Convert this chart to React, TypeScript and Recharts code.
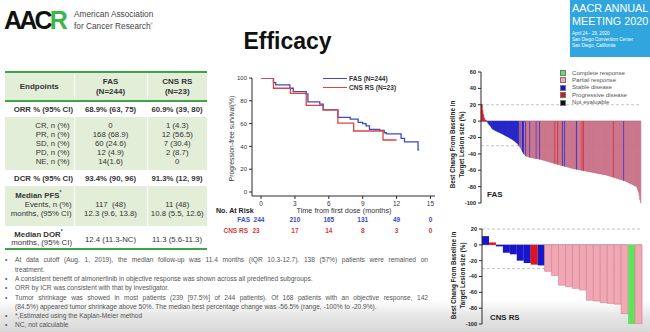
import React from "react";
import {
  Bar,
  BarChart,
  Cell,
  Line,
  LineChart,
  ReferenceLine,
  XAxis,
  YAxis,
} from "recharts";

const FONT = '"Liberation Sans", Arial, Helvetica, sans-serif';

// ---- Kaplan-Meier PFS ----
const fasKmTime = [0, 1.1, 1.3, 2.55, 2.85, 4.0, 4.15, 5.2, 5.5, 6.8, 7.9, 8.6, 9.0, 9.3, 9.6, 10.5, 10.9, 11.1, 12.4, 12.7, 13.9, 14.0];
const fasKmSurv = [100, 96, 94, 91, 88, 86, 79, 77, 72, 65.5, 64, 61, 60, 58, 55, 54, 52, 51, 47, 44, 37, 37];
const cnsKmTime = [0, 1.1, 2.6, 4.0, 5.5, 6.8, 8.2, 10.8, 12.0];
const cnsKmSurv = [100, 91, 86.5, 76, 72, 60.5, 53.5, 45.6, 45.6];
const kmTimeTicks = [0, 3, 6, 9, 12, 15];
const kmSurvTicks = [0, 20, 40, 60, 80, 100];
const fasAtRisk = [244, 210, 165, 131, 49, 0];
const cnsAtRisk = [23, 17, 14, 8, 3, 0];

// ---- Waterfall, FAS ----
const fasChange = [
  21, 20, 13, 8, 4, 2, 1, 0.5, -0.5, -1.5,
  -3, -4, -5, -6, -7, -8.5, -9.5,
  -10, -10.5, -11, -11.5, -12, -12.4, -12.8, -13.2, -13.6, -14,
  -14.4, -14.8, -15.2, -15.6, -16, -16.5, -17, -17.5, -18, -18.4,
  -18.8, -19.2, -19.7, -20.2, -20.7, -21.2, -21.7, -22.2, -22.8, -23.4,
  -24, -24.6, -25.2, -26, -26.8, -27.6, -28.5,
  -30, -31, -32.5, -34, -35.5, -37, -38.5, -40, -41, -41.8, -42.5, -43,
  -43.2, -43.5, -43.8, -44, -44.2, -44.4, -44.6, -44.8, -45, -45.2,
  -45.4, -45.5, -45.6, -45.8, -46, -46.1, -46.2, -46.4, -46.6,
  -46.8, -47, -47.3, -47.5, -47.8, -48, -48.2, -48.5, -48.7, -49,
  -49.2, -49.5, -49.7, -50, -50.2, -50.5, -50.7, -51, -51.2, -51.5,
  -51.7, -52, -52.2, -52.4, -52.7, -52.9, -53.1, -53.4, -53.6, -53.8,
  -54.1, -54.3, -54.5, -54.8, -55, -55.2, -55.5, -55.7, -55.9, -56.2,
  -56.4, -56.6, -56.9, -57.1, -57.3, -57.5, -57.8, -58,
  -58.2, -58.4, -58.5, -58.7, -58.9, -59, -59.2, -59.4, -59.5, -59.7,
  -59.9, -60, -60.2, -60.4, -60.5, -60.7, -60.9, -61, -61.2, -61.4,
  -61.5, -61.7, -61.9, -62, -62.2, -62.4, -62.5, -62.7, -62.9, -63,
  -63.2, -63.4, -63.5, -63.7, -63.9, -64, -64.2, -64.4, -64.5, -64.7,
  -64.9, -65, -65.2, -65.4, -65.5, -65.7, -65.9, -66,
  -66.3, -66.5, -66.8, -67, -67.3, -67.6, -67.8, -68.1, -68.4, -68.6,
  -68.9, -69.2, -69.4, -69.7, -70, -70.2, -70.5, -70.8, -71, -71.3,
  -71.6, -71.8, -72.1, -72.4, -72.6, -72.9, -73.2, -73.6, -74,
  -74.5, -75, -75.4, -75.8, -76.2, -76.6, -77, -77.4, -77.8, -78.2,
  -78.6, -79, -79.5, -80,
  -82, -84, -87, -91, -96, -100,
];
// D = progressive, S = stable, P = partial, C = complete
const fasResponseCodes =
  "DDDDDDSDSS" +
  "SSSSSSS" +
  "SSSSSSSSSS" + "SSSSSSSSSS" + "SSSSSSSSSS" + "SSSSSSS" +
  "SPSPPSSSPPSP" +
  "PPPPSPPPPPPPPSPPPPS" +
  "PPPPPPPPPP" + "PPPPPPPPPP" + "PDPPPDPPPP" + "PPSPPSPPPP" + "PPPPPPPP" +
  "PPPPSPPPPP" + "PPDPDPPPPP" + "PPPPPPPPPP" + "PPPPPPPPPP" + "PPPPPPPP" +
  "PPPPPPPPPD" + "PPPPPPPPPP" + "PPPPSPPPP" +
  "PPPPPPPPPP" + "PPPPPPPPPP";
const fasTicks = [60, 40, 20, 0, -20, -40, -60, -80, -100];

// ---- Waterfall, CNS RS ----
const cnsChange = [11, 3, -2, -10, -12, -20, -23, -25, -26, -33.5, -39, -51, -53, -55, -57, -70, -71, -73, -74, -75, -87, -100, -100];
const cnsResponse = ["S", "D", "S", "S", "S", "S", "S", "D", "S", "P", "P", "P", "P", "P", "P", "P", "P", "P", "P", "P", "P", "C", "P"];
const cnsTicks = [20, 0, -20, -40, -60, -80, -100];

const legendItems = [
  { code: "C", label: "Complete response" },
  { code: "P", label: "Partial response" },
  { code: "S", label: "Stable disease" },
  { code: "D", label: "Progressive disease" },
  { code: "N", label: "Not evaluable" },
];

const colors: Record<string, string> = {
  C: "#62e25c",
  P: "#f2a8b4",
  S: "#1717c9",
  D: "#e0121c",
  N: "#111111",
};
// thin FAS bars: darker pink with darker edges, like the dense reference
const fasFill: Record<string, string> = { P: "#d98496", S: "#1a1ac4", D: "#dc1420", C: "#62e25c", N: "#111" };
const fasEdge: Record<string, string> = { P: "#bb6179", S: "#1a1ac4", D: "#dc1420", C: "#62e25c", N: "#111" };

const fasKm = fasKmTime.map((t, i) => ({ t, s: fasKmSurv[i] }));
const cnsKm = cnsKmTime.map((t, i) => ({ t, s: cnsKmSurv[i] }));
const fasData = fasChange.map((v, i) => ({ id: i, change: v, r: fasResponseCodes[i] || "P" }));
const cnsData = cnsChange.map((v, i) => ({ id: i, change: v, r: cnsResponse[i] }));

// km plot geometry (page px) used for at-risk text columns
const KM_LEFT = 252;
const KM_WIDTH = 183;
const KM_DOMAIN: [number, number] = [-0.8, 15.4];
const kmX = (t: number) => KM_LEFT + ((t - KM_DOMAIN[0]) / (KM_DOMAIN[1] - KM_DOMAIN[0])) * KM_WIDTH;

const abs = (x: number, y: number, extra: React.CSSProperties = {}): React.CSSProperties => ({
  position: "absolute",
  left: x,
  top: y,
  whiteSpace: "nowrap",
  ...extra,
});

function VLabel({ cx, cy, w, h, children, style }: any) {
  return (
    <div
      style={{
        position: "absolute",
        left: cx - w / 2,
        top: cy - h / 2,
        width: w,
        height: h,
        transform: "rotate(-90deg)",
        textAlign: "center",
        whiteSpace: "nowrap",
        ...style,
      }}
    >
      {children}
    </div>
  );
}

const G_LINE = "2px solid #3da548";
const G_BG = "#e3eed9";
const cellBase: React.CSSProperties = { padding: 0, textAlign: "center", verticalAlign: "middle" };
const sepR: React.CSSProperties = { borderRight: "1.5px solid #fff" };

function EfficacyTable() {
  const L9 = { lineHeight: "9px" };
  return (
    <table
      style={{
        position: "absolute",
        left: 5,
        top: 71,
        width: 202,
        borderCollapse: "collapse",
        tableLayout: "fixed",
        fontSize: 7.8,
        color: "#333",
      }}
    >
      <colgroup>
        <col style={{ width: 69 }} />
        <col style={{ width: 73 }} />
        <col style={{ width: 60 }} />
      </colgroup>
      <tbody>
        <tr style={{ height: 29, background: G_BG, borderTop: G_LINE, borderBottom: G_LINE, fontWeight: 700 }}>
          <td style={{ ...cellBase, ...sepR, fontSize: 8 }}>Endpoints</td>
          <td style={{ ...cellBase, ...sepR, lineHeight: "10px", fontSize: 8 }}>FAS<br />(N=244)</td>
          <td style={{ ...cellBase, lineHeight: "10px", fontSize: 8 }}>CNS RS<br />(N=23)</td>
        </tr>
        <tr style={{ height: 16, fontWeight: 700 }}>
          <td style={{ ...cellBase, textAlign: "right", paddingRight: 1 }}>ORR % (95% CI)</td>
          <td style={cellBase}>68.9% (63, 75)</td>
          <td style={cellBase}>60.9% (39, 80)</td>
        </tr>
        <tr style={{ height: 53, background: G_BG }}>
          <td style={{ ...cellBase, ...sepR, ...L9, textAlign: "right", paddingRight: 4 }}>
            CR, n (%)<br />PR, n (%)<br />SD, n (%)<br />PD, n (%)<br />NE, n (%)
          </td>
          <td style={{ ...cellBase, ...sepR, ...L9 }}>
            0<br />168 (68.9)<br />60 (24.6)<br />12 (4.9)<br />14(1.6)
          </td>
          <td style={{ ...cellBase, ...L9 }}>
            1 (4.3)<br />12 (56.5)<br />7 (30.4)<br />2 (8.7)<br />0
          </td>
        </tr>
        <tr style={{ height: 16, fontWeight: 700 }}>
          <td style={{ ...cellBase, textAlign: "right", paddingRight: 1 }}>DCR % (95% CI)</td>
          <td style={cellBase}>93.4% (90, 96)</td>
          <td style={cellBase}>91.3% (12, 99)</td>
        </tr>
        <tr style={{ height: 40, background: G_BG }}>
          <td style={{ ...cellBase, ...sepR, verticalAlign: "top", textAlign: "right", paddingRight: 2 }}>
            <div style={{ height: 13.5, lineHeight: "13.5px", fontWeight: 700, textAlign: "center" }}>
              Median PFS<sup style={{ fontSize: 5 }}>*</sup>
            </div>
            <div style={L9}>Events, n (%)</div>
            <div style={L9}>months, (95% CI)</div>
          </td>
          <td style={{ ...cellBase, ...sepR, verticalAlign: "top" }}>
            <div style={{ height: 13.5 }} />
            <div style={L9}>117&nbsp;&nbsp;(48)</div>
            <div style={L9}>12.3 (9.6, 13.8)</div>
          </td>
          <td style={{ ...cellBase, verticalAlign: "top" }}>
            <div style={{ height: 13.5 }} />
            <div style={L9}>11 (48)</div>
            <div style={L9}>10.8 (5.5, 12.6)</div>
          </td>
        </tr>
        <tr style={{ height: 19, borderBottom: G_LINE }}>
          <td style={{ ...cellBase, verticalAlign: "top", textAlign: "right", paddingRight: 2, paddingTop: 1 }}>
            <div style={{ lineHeight: "8.5px", fontWeight: 700, textAlign: "center" }}>
              Median DOR<sup style={{ fontSize: 5 }}>*</sup>
            </div>
            <div style={{ lineHeight: "8.5px" }}>months, (95% CI)</div>
          </td>
          <td style={{ ...cellBase, verticalAlign: "top", paddingTop: 9.5, lineHeight: "8.5px" }}>12.4 (11.3-NC)</td>
          <td style={{ ...cellBase, verticalAlign: "top", paddingTop: 9.5, lineHeight: "8.5px" }}>11.3 (5.6-11.3)</td>
        </tr>
      </tbody>
    </table>
  );
}

const bullets: { y: number; text: string; bullet: boolean; justify: boolean }[] = [
  { y: 260, bullet: true, justify: true, text: "At data cutoff (Aug. 1, 2019), the median follow-up was 11.4 months (IQR 10.3-12.7). 138 (57%) patients were remained on" },
  { y: 270, bullet: false, justify: false, text: "treatment." },
  { y: 279, bullet: true, justify: false, text: "A consistent benefit of almonertinib in objective response was shown across all predefined subgroups." },
  { y: 288, bullet: true, justify: false, text: "ORR by ICR was consistent with that by investigator." },
  { y: 298, bullet: true, justify: true, text: "Tumor shrinkage was showed in most patients (239 [97.5%] of 244 patients). Of 168 patients with an objective response, 142" },
  { y: 307, bullet: false, justify: false, text: "(84.5%) appeared tumor shrinkage above 50%. The median best percentage change was -56.5% (range, -100% to -20.9%)." },
  { y: 316, bullet: true, justify: false, text: "*,Estimated using the Kaplan-Meier method" },
  { y: 325, bullet: true, justify: false, text: "NC, not calculable" },
];

export default function App() {
  const axisStroke = "#2a2a2a";
  const refProps: any = { stroke: "#b5b5b5", strokeDasharray: "3 2", strokeWidth: 0.8, zIndex: 100 };
  return (
    <div
      style={{
        position: "absolute",
        left: 0,
        top: 0,
        width: 650,
        height: 332,
        overflow: "hidden",
        background: "linear-gradient(to bottom, #ffffff 0px, #ffffff 300px, #e6e6e6 316px, #d8d8d8 332px)",
        fontFamily: FONT,
        color: "#333",
      }}
    >
      {/* header */}
      <div style={abs(4, 8, { fontSize: 25, lineHeight: "25px", fontWeight: 700, letterSpacing: -2.8, color: "#111" })}>
        AAC<span style={{ color: "#3db54a" }}>R</span>
      </div>
      <div style={abs(74, 9, { fontSize: 8.3, lineHeight: "10px", color: "#444" })}>
        American Association
        <br />
        for Cancer Research<sup style={{ fontSize: 3 }}>®</sup>
      </div>
      <div style={abs(200, 28, { width: 175, textAlign: "center", fontSize: 23, lineHeight: "26px", fontWeight: 700, color: "#111" })}>
        Efficacy
      </div>
      <div style={abs(570, 0, { width: 80, height: 57, background: "#31a6de", color: "#fff", overflow: "hidden" })}>
        <div style={abs(2, 2, { fontSize: 10.8, lineHeight: "12px" })}>AACR ANNUAL</div>
        <div style={abs(2, 15, { fontSize: 10.8, lineHeight: "12px" })}>MEETING 2020</div>
        <div style={abs(2, 31, { fontSize: 4.6, lineHeight: "6px" })}>
          April 24 - 29, 2020
          <br />
          San Diego Convention Center
          <br />
          San Diego, California
        </div>
      </div>

      <EfficacyTable />

      {/* KM chart */}
      <div style={abs(210, 65)}>
        <LineChart width={230} height={156} margin={{ top: 13, right: 5, bottom: 0, left: 0 }}>
          <XAxis
            type="number"
            dataKey="t"
            domain={KM_DOMAIN}
            ticks={kmTimeTicks}
            allowDataOverflow
            height={25}
            interval={0}
            tickSize={3}
            axisLine={{ stroke: axisStroke }}
            tickLine={{ stroke: axisStroke }}
            tick={{ fontSize: 6.5, fill: "#333" }}
          />
          <YAxis
            type="number"
            domain={[-3.5, 100]}
            ticks={kmSurvTicks}
            allowDataOverflow
            width={42}
            interval={0}
            tickSize={3}
            axisLine={{ stroke: axisStroke }}
            tickLine={{ stroke: axisStroke }}
            tick={{ fontSize: 6, fill: "#333" }}
          />
          <Line data={fasKm} dataKey="s" type="stepAfter" stroke="#3b4cbe" strokeWidth={1.3} dot={false} isAnimationActive={false} />
          <Line data={cnsKm} dataKey="s" type="stepAfter" stroke="#e2433c" strokeWidth={1.3} dot={false} isAnimationActive={false} />
        </LineChart>
      </div>
      <VLabel cx={231} cy={138} w={110} h={9} style={{ fontSize: 6.8, lineHeight: "9px", color: "#333" }}>
        Progression-free survival(%)
      </VLabel>
      <div style={abs(323, 78, { width: 24, height: 0, borderTop: "1.6px solid #3b4cbe" })} />
      <div style={abs(323, 87, { width: 24, height: 0, borderTop: "1.6px solid #e2433c" })} />
      <div style={abs(349, 74, { fontSize: 6.6, lineHeight: "9px", fontWeight: 700, color: "#333" })}>FAS (N=244)</div>
      <div style={abs(349, 83, { fontSize: 6.6, lineHeight: "9px", fontWeight: 700, color: "#333" })}>CNS RS (N=23)</div>
      <div style={abs(296, 206, { width: 96, textAlign: "center", fontSize: 7.3, lineHeight: "10px", color: "#333" })}>
        Time from first dose (months)
      </div>
      <div style={abs(216, 206, { fontSize: 7.1, lineHeight: "10px", fontWeight: 700, color: "#222" })}>No. At Risk</div>
      <div style={abs(200, 214.5, { width: 50, textAlign: "right", fontSize: 6.5, lineHeight: "9px", fontWeight: 700, color: "#3b4cbe" })}>FAS</div>
      <div style={abs(200, 225.5, { width: 48, textAlign: "right", fontSize: 6.5, lineHeight: "9px", fontWeight: 700, color: "#d63a36" })}>CNS RS</div>
      {kmTimeTicks.map((t, i) => (
        <React.Fragment key={t}>
          <div style={abs(kmX(t) - 15 - (i === 0 ? 2 : 0), 214.5, { width: 30, textAlign: "center", fontSize: 6.5, lineHeight: "9px", fontWeight: 700, color: "#3b4cbe" })}>
            {fasAtRisk[i]}
          </div>
          <div style={abs(kmX(t) - 15 - (i === 0 ? 5 : 0), 225.5, { width: 30, textAlign: "center", fontSize: 6.5, lineHeight: "9px", fontWeight: 700, color: "#d63a36" })}>
            {cnsAtRisk[i]}
          </div>
        </React.Fragment>
      ))}

      {/* waterfall FAS */}
      <div style={abs(440, 60)}>
        <BarChart width={205} height={148} data={fasData} margin={{ top: 12, right: 4, bottom: 5, left: 0 }} barCategoryGap={0} barGap={0}>
          <XAxis dataKey="id" hide />
          <YAxis
            domain={[-100, 60]}
            ticks={fasTicks}
            allowDataOverflow
            width={41}
            interval={0}
            tickSize={3}
            axisLine={{ stroke: axisStroke }}
            tickLine={{ stroke: axisStroke }}
            tick={{ fontSize: 5.6, fill: "#222", fontWeight: 700 }}
          />
          <ReferenceLine y={0} stroke="#9a9a9a" strokeWidth={0.8} zIndex={100} />
          <ReferenceLine y={20} {...refProps} />
          <ReferenceLine y={-30} {...refProps} />
          <Bar dataKey="change" isAnimationActive={false}>
            {fasData.map((d) => (
              <Cell key={d.id} fill={fasFill[d.r]} stroke={fasEdge[d.r]} strokeWidth={0.35} />
            ))}
          </Bar>
        </BarChart>
      </div>
      <VLabel cx={457} cy={144} w={110} h={17} style={{ fontSize: 6.3, lineHeight: "8.5px", fontWeight: 700, color: "#222" }}>
        Best Chang From Baseline in
        <br />
        Target Lesion size (%)
      </VLabel>
      <div style={abs(487, 190, { fontSize: 8, lineHeight: "10px", fontWeight: 700, color: "#222" })}>FAS</div>
      {legendItems.map((it, i) => (
        <React.Fragment key={it.code}>
          <div style={abs(560, 70 + i * 7.4, { width: 4, height: 4, background: colors[it.code], border: "0.5px solid #777" })} />
          <div style={abs(572, 68.5 + i * 7.4, { fontSize: 6.1, lineHeight: "8px", color: "#555" })}>{it.label}</div>
        </React.Fragment>
      ))}

      {/* waterfall CNS RS */}
      <div style={abs(440, 215)}>
        <BarChart width={205} height={112} data={cnsData} margin={{ top: 14, right: 3, bottom: 3, left: 0 }} barCategoryGap={0} barGap={0}>
          <XAxis dataKey="id" hide />
          <YAxis
            domain={[-100, 20]}
            ticks={cnsTicks}
            allowDataOverflow
            width={42}
            interval={0}
            tickSize={3}
            axisLine={{ stroke: axisStroke }}
            tickLine={{ stroke: axisStroke }}
            tick={{ fontSize: 5.6, fill: "#222", fontWeight: 700 }}
          />
          <ReferenceLine y={0} stroke="#9a9a9a" strokeWidth={0.8} zIndex={100} />
          <ReferenceLine y={20} {...refProps} />
          <ReferenceLine y={-30} {...refProps} />
          <Bar dataKey="change" isAnimationActive={false}>
            {cnsData.map((d) => (
              <Cell key={d.id} fill={colors[d.r]} stroke={d.r === "P" ? "#c98390" : "none"} strokeWidth={0.6} />
            ))}
          </Bar>
        </BarChart>
      </div>
      <VLabel cx={458} cy={275} w={110} h={17} style={{ fontSize: 6.3, lineHeight: "8.5px", fontWeight: 700, color: "#222" }}>
        Best Chang From Baseline in
        <br />
        Target Lesion size (%)
      </VLabel>
      <div style={abs(490, 313, { fontSize: 7.8, lineHeight: "10px", fontWeight: 700, color: "#222" })}>CNS RS</div>

      {/* notes */}
      {bullets.map((b) => (
        <React.Fragment key={b.y}>
          {b.bullet && <div style={abs(5, b.y - 5, { fontSize: 6.6, lineHeight: "10px", color: "#555" })}>•</div>}
          <div
            style={abs(15, b.y - 5, {
              width: 413,
              fontSize: 6.6,
              lineHeight: "10px",
              color: "#555",
              whiteSpace: b.justify ? "normal" : "nowrap",
              textAlign: b.justify ? "justify" : "left",
              textAlignLast: b.justify ? "justify" : "auto",
              height: 10,
              overflow: "visible",
            })}
          >
            {b.text}
          </div>
        </React.Fragment>
      ))}
    </div>
  );
}
